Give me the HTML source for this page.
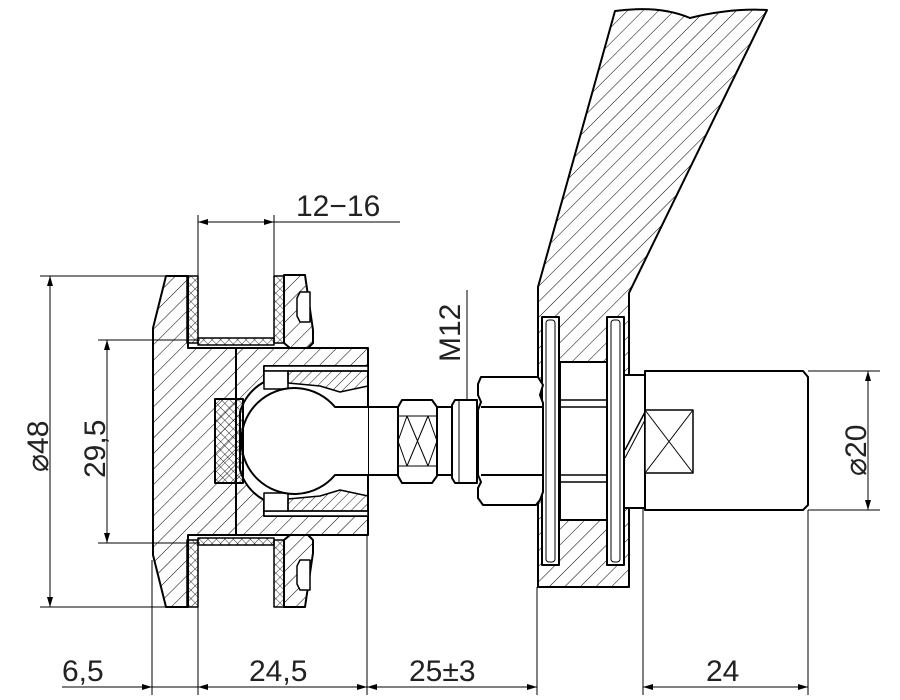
<!DOCTYPE html>
<html><head><style>
html,body{margin:0;padding:0;background:#fff}
svg{display:block}
text{font-family:"Liberation Sans",sans-serif;fill:#222}
</style></head><body>
<svg width="900" height="700" viewBox="0 0 900 700" xmlns="http://www.w3.org/2000/svg">
<defs>
<pattern id="h" width="11" height="11" patternUnits="userSpaceOnUse" patternTransform="rotate(45)">
<line x1="0" y1="0" x2="0" y2="11" stroke="#000" stroke-width="1"/></pattern>
<pattern id="hs" width="7" height="7" patternUnits="userSpaceOnUse" patternTransform="rotate(45)">
<line x1="0" y1="0" x2="0" y2="7" stroke="#000" stroke-width="0.9"/></pattern>
<pattern id="x" width="6" height="6" patternUnits="userSpaceOnUse" patternTransform="rotate(45)">
<line x1="0" y1="0" x2="0" y2="6" stroke="#000" stroke-width="0.8"/><line x1="0" y1="0" x2="6" y2="0" stroke="#000" stroke-width="0.8"/></pattern>
<marker id="a" viewBox="0 0 10 6" refX="10" refY="3" markerWidth="16" markerHeight="6" markerUnits="userSpaceOnUse" orient="auto-start-reverse"><path d="M0,0L10,3L0,6z" fill="#000"/></marker>
</defs>
<g fill="none" stroke="#000" stroke-width="1">
<line x1="40" y1="276" x2="168" y2="276"/><line x1="40" y1="607" x2="168" y2="607"/>
<line x1="98" y1="340" x2="200" y2="340"/><line x1="98" y1="543" x2="200" y2="543"/>
<line x1="152" y1="560" x2="152" y2="695"/><line x1="198" y1="600" x2="198" y2="695"/>
<line x1="367" y1="535" x2="367" y2="695"/><line x1="537" y1="587" x2="537" y2="695"/>
<line x1="643" y1="508" x2="643" y2="695"/><line x1="808" y1="510" x2="808" y2="695"/>
<line x1="808" y1="371" x2="880" y2="371"/><line x1="808" y1="510" x2="880" y2="510"/>
<line x1="198" y1="215" x2="198" y2="276"/><line x1="274" y1="215" x2="274" y2="276"/>
<line x1="467" y1="290" x2="467" y2="400"/>
<line x1="50" y1="276" x2="50" y2="607" marker-start="url(#a)" marker-end="url(#a)"/>
<line x1="107" y1="340" x2="107" y2="543" marker-start="url(#a)" marker-end="url(#a)"/>
<line x1="868" y1="371" x2="868" y2="510" marker-start="url(#a)" marker-end="url(#a)"/>
<line x1="198" y1="222" x2="274" y2="222" marker-start="url(#a)" marker-end="url(#a)"/>
<line x1="274" y1="222" x2="400" y2="222"/>
<line x1="467" y1="400" x2="467" y2="483" marker-start="url(#a)" marker-end="url(#a)"/>
<line x1="62" y1="687" x2="152" y2="687" marker-end="url(#a)"/>
<line x1="152" y1="687" x2="198" y2="687"/>
<line x1="198" y1="687" x2="367" y2="687" marker-start="url(#a)" marker-end="url(#a)"/>
<line x1="367" y1="687" x2="537" y2="687" marker-start="url(#a)" marker-end="url(#a)"/>
<line x1="643" y1="687" x2="808" y2="687" marker-start="url(#a)" marker-end="url(#a)"/>
</g>
<g stroke="#000" stroke-width="2" stroke-linejoin="round">
<path d="M615,11 Q660,5 690,18 Q730,8 767,10 L629,293 L629,587 L538,587 L538,287 Z" fill="url(#h)"/>
<rect x="560" y="362" width="47" height="158" fill="#fff"/>
<line x1="560" y1="400" x2="607" y2="400" stroke-width="1.5"/><line x1="560" y1="407" x2="607" y2="407" stroke-width="1.5"/>
<line x1="560" y1="475" x2="607" y2="475" stroke-width="1.5"/><line x1="560" y1="482" x2="607" y2="482" stroke-width="1.5"/>
<rect x="542" y="317" width="17" height="248" fill="#fff"/>
<rect x="546" y="320" width="9" height="242" rx="3" fill="#fff" stroke-width="1"/>
<rect x="607" y="317" width="17" height="248" fill="#fff"/>
<rect x="611" y="320" width="9" height="242" rx="3" fill="#fff" stroke-width="1"/>
<rect x="624" y="375" width="21" height="133" fill="#fff"/>
<line x1="625" y1="450" x2="645" y2="412" stroke-width="1.5"/><line x1="625" y1="458" x2="645" y2="420" stroke-width="1"/>
<path d="M645,371 L803,371 L808,377 L808,505 L803,510 L645,510 Z" fill="#fff"/>
<rect x="645" y="410" width="48" height="63" fill="#fff" stroke-width="1.5"/>
<path d="M645,410L693,473M693,410L645,473" stroke-width="1"/>
<rect x="368" y="407" width="30" height="68" fill="#fff" stroke="none"/>
<line x1="335" y1="407" x2="398" y2="407"/><line x1="335" y1="475" x2="398" y2="475"/>
<path d="M398,407 L402,400 L432,400 L437,407 L437,476 L432,483 L402,483 L398,476 Z" fill="#fff"/>
<path d="M398,416 L437,416 M398,466 L437,466 M398,441 L407,416 M398,441 L407,466 M437,441 L428,416 M437,441 L428,466 M407,416 L428,466 M428,416 L407,466" fill="none" stroke-width="1"/>
<rect x="437" y="407" width="18" height="68" fill="#fff"/>
<path d="M455,400 L477,400 L477,483 L455,483 L452,478 L452,405 Z" fill="#fff"/>
<line x1="459" y1="400" x2="459" y2="483" stroke-width="1"/>
<path d="M481,377 L538,377 L543,385 L540,395 L543,403 L543,492 L540,500 L536,505 L483,505 L478,498 L478,488 L481,482 L478,475 L478,410 L481,402 L478,395 L478,384 Z" fill="#fff"/>
<path d="M481,407 L542,407 M481,475 L542,475" fill="none" stroke-width="2"/>
<path d="M166,276 L188,276 L188,348 L236,348 L236,535 L188,535 L188,607 L166,607 L153,555 L153,328 Z" fill="url(#h)"/>
<path d="M187,276 L198,276 L198,343 L187,343 Z" fill="url(#x)" stroke-width="1.5"/>
<path d="M187,540 L198,540 L198,607 L187,607 Z" fill="url(#x)" stroke-width="1.5"/>
<rect x="198" y="338" width="76" height="7" fill="url(#x)" stroke-width="1.5"/>
<rect x="198" y="538" width="76" height="7" fill="url(#x)" stroke-width="1.5"/>
<path d="M274,276 L284,276 L284,343 L274,343 Z" fill="url(#x)" stroke-width="1.5"/>
<path d="M274,540 L284,540 L284,607 L274,607 Z" fill="url(#x)" stroke-width="1.5"/>
<path d="M284,275 L305,275 L313,330 L313,343 L308,348 L290,348 L284,343 Z" fill="url(#h)"/>
<path d="M284,540 L290,535 L308,535 L313,540 L313,553 L305,607 L284,607 Z" fill="url(#h)"/>
<path d="M297,298 L300,292 L310,292 L310,322 L300,322 L297,316 Z" fill="#fff" stroke-width="1.5"/>
<path d="M297,566 L300,560 L310,560 L310,590 L300,590 L297,584 Z" fill="#fff" stroke-width="1.5"/>
<rect x="236" y="348" width="132" height="187" fill="url(#h)"/>
<path d="M264,366 L368,366 L368,516 L264,516 L264,500 Q246,490 240,470 L240,412 Q246,392 264,382 Z" fill="#fff"/>
<rect x="264" y="366" width="104" height="5" fill="#fff" stroke-width="1.5"/>
<rect x="264" y="511" width="104" height="5" fill="#fff" stroke-width="1.5"/>
<rect x="264" y="371" width="24" height="18" fill="#fff" stroke-width="1.5"/>
<rect x="264" y="493" width="24" height="18" fill="#fff" stroke-width="1.5"/>
<path d="M288,371 L368,371 L368,386 L340,392 L320,386 L288,383 Z" fill="url(#hs)" stroke-width="1.5"/>
<path d="M288,511 L368,511 L368,496 L340,490 L320,496 L288,499 Z" fill="url(#hs)" stroke-width="1.5"/>
<path d="M335,407 L368,407 L368,475 L335,475 A53,53 0 1 1 335,407 Z" fill="#fff"/>
<rect x="336" y="408" width="32" height="66" fill="#fff" stroke="none"/>
<rect x="215" y="399" width="28" height="84" fill="url(#x)"/>
</g>
<g font-size="30" font-weight="300">
<text x="62" y="681">6,5</text>
<text x="249" y="681">24,5</text>
<text x="409" y="681">25±3</text>
<text x="706" y="681">24</text>
<text x="296" y="216">12−16</text>
<text transform="translate(48,472) rotate(-90)">⌀48</text>
<text transform="translate(105,478) rotate(-90)">29,5</text>
<text transform="translate(460,362) rotate(-90)">M12</text>
<text transform="translate(866,476) rotate(-90)">⌀20</text>
</g>
</svg>
</body></html>
